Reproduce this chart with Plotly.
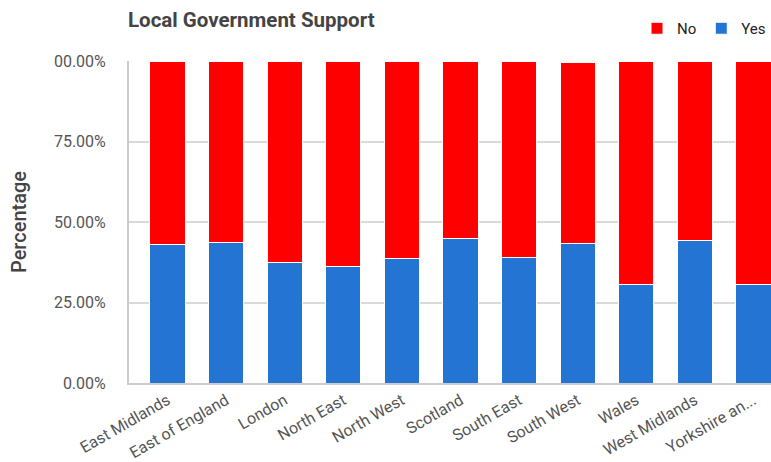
import plotly.graph_objects as go

regions = ["East Midlands", "East of England", "London", "North East", "North West",
           "Scotland", "South East", "South West", "Wales", "West Midlands", "Yorkshire an..."]
yes_pct = [42.9, 43.6, 37.4, 36.1, 38.6, 44.8, 39.0, 43.3, 30.5, 44.3, 30.5]
no_pct = [57.1, 56.1, 62.6, 63.9, 61.4, 54.9, 61.0, 56.1, 69.5, 55.7, 69.5]
tick_vals = [0, 25, 50, 75, 100]
tick_text = ["0.00%", "25.00%", "50.00%", "75.00%", "00.00%"]

fig = go.Figure()
fig.add_trace(go.Bar(x=regions, y=yes_pct, name="Yes", marker=dict(color="#2475D3", line=dict(color="white", width=1)), width=0.6))
fig.add_trace(go.Bar(x=regions, y=no_pct, name="No", marker=dict(color="#FF0000", line=dict(color="white", width=1)), width=0.6))

fig.update_layout(
    barmode="stack",
    width=771, height=462,
    margin=dict(l=129, r=0, t=61, b=79, autoexpand=False),
    paper_bgcolor="white", plot_bgcolor="white",
    font=dict(family="Roboto", color="#444"),
    title=dict(text="<b>Local Government Support</b>", x=128/771, xanchor="left",
               y=1-20/462, yanchor="middle", yref="container", xref="container",
               font=dict(family="Roboto", size=20.5, color="#444")),
    legend=dict(orientation="h", x=1.0, xanchor="right", xref="container",
                y=1-12/462, yanchor="top", yref="container",
                traceorder="reversed", font=dict(family="Roboto", size=15, color="#222")),
    showlegend=True,
)
fig.update_xaxes(range=[-0.657, 10.3], showgrid=False, showline=True, linecolor="#ccc", linewidth=2,
                 tickangle=-30, tickfont=dict(family="Roboto", size=16, color="#555"), ticks="")
fig.update_yaxes(range=[0, 100], tickvals=tick_vals, ticktext=tick_text, showgrid=True,
                 gridcolor="#d9d9d9", gridwidth=2, showline=True, linecolor="#ccc", linewidth=2,
                 tickfont=dict(family="Roboto", size=16, color="#555"), ticks="",
                 ticklabelstandoff=18,
                 title=dict(text="Percentage", font=dict(family="Roboto", size=20, color="#444", weight=500), standoff=22),
                 zeroline=False)

fig.write_html("out.html", config={"displayModeBar": False},
               post_script="document.body.style.margin='0';")
